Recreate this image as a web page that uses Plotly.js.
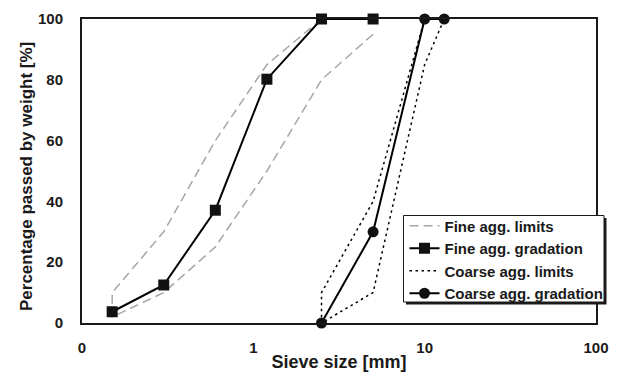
<!DOCTYPE html>
<html>
<head>
<meta charset="utf-8">
<script src="https://cdn.plot.ly/plotly-3.0.1.min.js"></script>
<style>
html,body{margin:0;padding:0;background:#fff;}
#chart{width:617px;height:373px;}
</style>
</head>
<body>
<div id="chart"></div>
<script>
// Sieve sizes [mm]
const fineSieve = [0.15, 0.3, 0.6, 1.2, 2.5, 5];
const coarseSieve = [2.5, 5, 10, 13];
// Percentage passed [%]
const fineGradation = [3.7, 12.5, 37.1, 80.2, 100, 100];
const fineUpper = [10, 30, 60, 85, 100, 100];
const fineLower = [2, 10, 25, 50, 80, 95];
const coarseGradation = [0, 30, 100, 100];
const coarseUpper = [10, 40, 100, 100];
const coarseLower = [0, 10, 85, 100];
// Axis ticks
const xTickVals = [0.1, 1, 10, 100];
const xTickText = ["0", "1", "10", "100"];
const yTickVals = [0, 20, 40, 60, 80, 100];

const rev = a => a.slice().reverse();

const FONT = "Liberation Sans, Arial, Helvetica, sans-serif";
const INK = "#1a1a1a";

const traces = [
  {
    name: "Fine agg. limits",
    x: rev(fineSieve).concat(fineSieve),
    y: rev(fineLower).concat(fineUpper),
    mode: "lines",
    line: {color: "#a6a6a6", width: 1.5, dash: "9px,5px"},
    cliponaxis: false
  },
  {
    name: "Fine agg. gradation",
    x: fineSieve,
    y: fineGradation,
    mode: "lines+markers",
    line: {color: "#000", width: 2},
    marker: {symbol: "square", size: 11, color: "#111"},
    cliponaxis: false
  },
  {
    name: "Coarse agg. limits",
    x: rev(coarseSieve).concat(coarseSieve),
    y: rev(coarseUpper).concat(coarseLower),
    mode: "lines",
    line: {color: "#000", width: 1.5, dash: "2.5px,3.5px"},
    cliponaxis: false
  },
  {
    name: "Coarse agg. gradation",
    x: coarseSieve,
    y: coarseGradation,
    mode: "lines+markers",
    line: {color: "#000", width: 2},
    marker: {symbol: "circle", size: 11, color: "#111"},
    cliponaxis: false
  }
];

// legend box (decoration) in paper coords
const px2x = p => (p - 82) / 514;
const px2y = p => (323 - p) / 304;

const layout = {
  width: 617,
  height: 373,
  margin: {l: 82, r: 21, t: 19, b: 50, autoexpand: false},
  paper_bgcolor: "#fff",
  plot_bgcolor: "#fff",
  font: {family: FONT, size: 15, color: INK, weight: 700},
  showlegend: true,
  legend: {
    x: px2x(404.5), y: px2y(209.5), xanchor: "left", yanchor: "top",
    bgcolor: "rgba(0,0,0,0)", borderwidth: 0,
    font: {family: FONT, size: 15, color: INK, weight: 700},
    tracegroupgap: 0
  },
  shapes: [
    {type: "rect", xref: "paper", yref: "paper", layer: "above",
     x0: px2x(406), x1: px2x(606.5), y0: px2y(304.5), y1: px2y(218),
     fillcolor: INK, line: {width: 0}},
    {type: "rect", xref: "paper", yref: "paper", layer: "above",
     x0: px2x(403.5), x1: px2x(604), y0: px2y(302), y1: px2y(215.5),
     fillcolor: "#fff", line: {color: INK, width: 1}}
  ],
  annotations: [{
    text: "Percentage passed by weight [%]",
    xref: "paper", yref: "paper",
    x: px2x(26), y: px2y(177),
    xanchor: "center", yanchor: "middle",
    textangle: -90, showarrow: false,
    font: {family: FONT, size: 17, color: INK, weight: 700}
  }],
  xaxis: {
    type: "log",
    range: [-1, 2],
    tickvals: xTickVals,
    ticktext: xTickText,
    ticks: "",
    ticklabelstandoff: 10,
    showgrid: false,
    zeroline: false,
    showline: true,
    linecolor: INK,
    linewidth: 2,
    mirror: true,
    automargin: false,
    tickfont: {family: FONT, size: 15, color: INK, weight: 700},
    title: {text: "Sieve size [mm]", font: {family: FONT, size: 18, color: INK, weight: 700}, standoff: 0}
  },
  yaxis: {
    range: [0, 100],
    tickvals: yTickVals,
    ticks: "",
    ticklabelstandoff: 14,
    showgrid: false,
    zeroline: false,
    showline: true,
    linecolor: INK,
    linewidth: 2,
    mirror: true,
    automargin: false,
    tickfont: {family: FONT, size: 15, color: INK, weight: 700}
  }
};

Plotly.newPlot("chart", traces, layout, {displayModeBar: false, staticPlot: true});
</script>
</body>
</html>
